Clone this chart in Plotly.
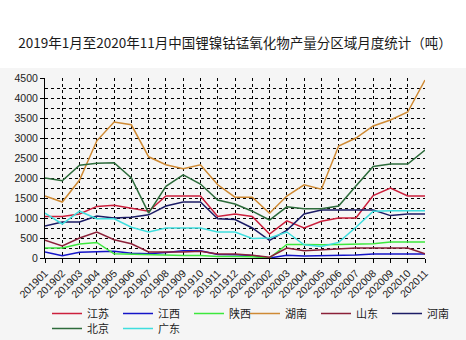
import plotly.graph_objects as go

months = ["201901", "201902", "201903", "201904", "201905", "201906", "201907", "201908",
          "201909", "201910", "201911", "201912", "202001", "202002", "202003", "202004",
          "202005", "202006", "202007", "202008", "202009", "202010", "202011"]

jiangsu = [1040, 1040, 1100, 1290, 1320, 1250, 1170, 1550, 1550, 1550, 1040, 1100, 1040, 600, 930, 750, 920, 1000, 1000, 1560, 1750, 1550, 1550]
jiangxi = [150, 55, 145, 150, 170, 120, 105, 140, 180, 180, 90, 80, 60, 0, 70, 50, 55, 65, 75, 100, 100, 100, 100]
shaanxi = [250, 250, 350, 390, 105, 90, 75, 60, 60, 60, 35, 40, 30, 0, 340, 340, 330, 340, 340, 355, 400, 400, 400]
hunan = [1550, 1400, 1950, 2930, 3400, 3330, 2530, 2330, 2230, 2330, 1830, 1520, 1520, 1120, 1550, 1830, 1720, 2800, 3000, 3300, 3450, 3650, 4450]
shandong = [445, 300, 500, 650, 457, 357, 150, 150, 150, 170, 100, 100, 70, 20, 250, 183, 208, 233, 250, 250, 250, 250, 105]
henan = [800, 900, 900, 1050, 1000, 1020, 1080, 1300, 1400, 1400, 980, 960, 750, 440, 690, 1100, 1200, 1200, 1200, 1200, 1060, 1100, 1100]
beijing = [2000, 1930, 2320, 2370, 2380, 2000, 1120, 1790, 2080, 1850, 1450, 1350, 1170, 950, 1280, 1230, 1230, 1300, 1800, 2290, 2350, 2350, 2700]
guangdong = [1120, 850, 1170, 980, 980, 770, 650, 750, 750, 750, 650, 650, 490, 500, 650, 330, 290, 390, 770, 1170, 1180, 1180, 1180]

series = [
    ("江苏", jiangsu, "#cc1f3c", "legend"),
    ("江西", jiangxi, "#1414c8", "legend"),
    ("陕西", shaanxi, "#3de83d", "legend"),
    ("湖南", hunan, "#cf8a34", "legend2"),
    ("山东", shandong, "#8b2038", "legend2"),
    ("河南", henan, "#1c1c66", "legend2"),
    ("北京", beijing, "#2d6b3b", "legend3"),
    ("广东", guangdong, "#3fdede", "legend3"),
]

y_ticks = [0, 500, 1000, 1500, 2000, 2500, 3000, 3500, 4000, 4500]

fig = go.Figure()
for name, vals, col, lg in series:
    fig.add_trace(go.Scatter(x=months, y=vals, name=name, mode="lines", legend=lg,
                             line=dict(color=col, width=1.5)))

W, H = 466, 340
L, R, T, B = 45, 41, 78, 82
ph = H - T - B
pw = W - L - R


def legend_at(xpx, ypx):
    return dict(orientation="h", xref="container", x=xpx / W, xanchor="left",
                yref="container", y=1 - ypx / H, yanchor="top",
                bgcolor="rgba(0,0,0,0)",
                font=dict(family="Noto Sans CJK SC", size=11, color="#222"),
                entrywidth=26, entrywidthmode="pixels",
                tracegroupgap=0, itemwidth=30)


fig.update_layout(
    width=W, height=H,
    margin=dict(l=L, r=R, t=T, b=B, pad=0, autoexpand=False),
    paper_bgcolor="#f5f5f5",
    plot_bgcolor="#f5f5f5",
    font=dict(family="Liberation Sans, Noto Sans CJK SC", size=11, color="#222"),
    title=dict(text="2019年1月至2020年11月中国锂镍钴锰氧化物产量分区域月度统计（吨）",
               x=235 / W, xanchor="center", y=1 - 43 / H, yanchor="middle",
               yref="container", xref="container",
               font=dict(family="Noto Sans CJK SC", size=13.5, color="#1a1a1a")),
    showlegend=True,
    legend=legend_at(47, 299),
    legend2=legend_at(245, 299),
    legend3=legend_at(47, 314),
    shapes=[dict(type="rect", xref="paper", yref="paper",
                 x0=-L / pw, x1=(W - L) / pw, y0=(H - B - 68) / ph, y1=(H - B) / ph + 0.01,
                 fillcolor="white", line=dict(width=0), layer="below")],
)

fig.update_xaxes(type="category", range=[0, len(months) - 1], automargin=False,
                 tickangle=-45, ticks="outside", ticklen=4, tickcolor="black",
                 showline=True, linecolor="black", linewidth=1,
                 showgrid=True, gridcolor="black", griddash="dot", gridwidth=1,
                 tickfont=dict(size=10.5, color="#222"), zeroline=False)
fig.update_yaxes(range=[0, 4500], tickvals=y_ticks, ticks="outside", ticklen=4, tickcolor="black",
                 automargin=False,
                 showline=True, linecolor="black", linewidth=1,
                 showgrid=True, gridcolor="black", griddash="dot", gridwidth=1,
                 minor=dict(dtick=250, showgrid=True, gridcolor="black", griddash="dot", gridwidth=1),
                 tickfont=dict(size=10.5, color="#222"), zeroline=False)

fig.write_html("out.html")
